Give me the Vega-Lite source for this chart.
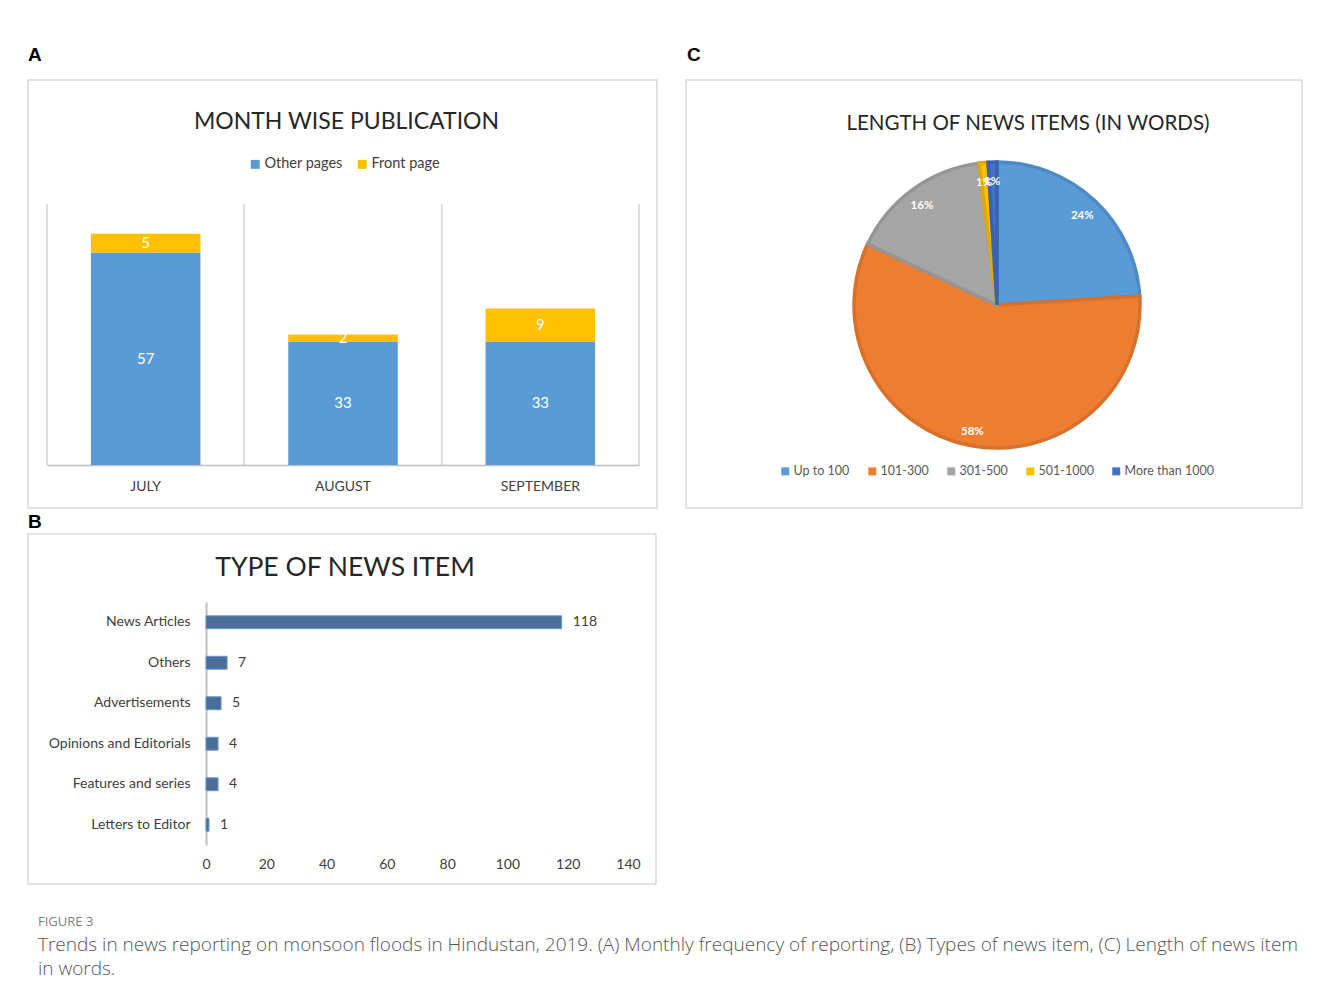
{
  "$schema": "https://vega.github.io/schema/vega-lite/v6.json",
  "background": "white",
  "padding": {"left": 27, "top": 46, "right": 5, "bottom": 5},
  "autosize": {"type": "pad"},
  "title": {
    "text": "FIGURE 3",
    "subtitle": ["Trends in news reporting on monsoon floods in Hindustan, 2019. (A) Monthly frequency of reporting, (B) Types of news item, (C) Length of news item", "in words."],
    "orient": "bottom", "anchor": "start", "frame": "group", "dx": 10, "offset": 31,
    "font": "Open Sans", "fontSize": 13, "fontWeight": "normal", "color": "#7f7f7f",
    "subtitleFont": "Open Sans", "subtitleFontSize": 19, "subtitleFontWeight": 300, "subtitleColor": "#555555", "subtitlePadding": 7, "subtitleLineHeight": 24
  },
  "spacing": 4,
  "resolve": {"scale": {"color": "independent", "fill": "independent", "stroke": "independent"}, "legend": {"color": "independent", "fill": "independent", "stroke": "independent"}},
  "vconcat": [
    {
      "spacing": 27,
      "resolve": {"scale": {"color": "independent", "fill": "independent", "stroke": "independent"}, "legend": {"color": "independent", "fill": "independent", "stroke": "independent"}},
      "hconcat": [
        {
          "title": {"text": "A", "anchor": "start", "frame": "group", "font": "Liberation Sans", "fontSize": 19, "fontWeight": "bold", "color": "#000000", "offset": 14},
          "resolve": {"scale": {"color": "independent"}, "legend": {"color": "independent"}},
          "vconcat": [
            {
              "width": 629, "height": 428,
              "title": {"text": "MONTH WISE PUBLICATION", "anchor": "middle", "frame": "group", "offset": -54, "dx": 4, "font": "Lato", "fontSize": 23, "fontWeight": "normal", "color": "#262626"},
              "data": {"values": [
                {"month": "JULY", "series": "Other pages", "value": 57},
                {"month": "JULY", "series": "Front page", "value": 5},
                {"month": "AUGUST", "series": "Other pages", "value": 33},
                {"month": "AUGUST", "series": "Front page", "value": 2},
                {"month": "SEPTEMBER", "series": "Other pages", "value": 33},
                {"month": "SEPTEMBER", "series": "Front page", "value": 9}
              ]},
              "transform": [{"stack": "value", "groupby": ["month"], "sort": [{"field": "series", "order": "descending"}], "as": ["v0", "v1"]}],
              "layer": [
                {
                  "mark": {"type": "rule", "color": "#d9d9d9", "strokeWidth": 1.2},
                  "encoding": {
                    "x": {"field": "month", "type": "nominal", "sort": null, "bandPosition": -0.4009,
                      "scale": {"range": [19, 611], "paddingInner": 0.445, "paddingOuter": 0.2225},
                      "axis": {"orient": "bottom", "offset": -43, "title": null, "grid": false, "ticks": false, "domainColor": "#bfbfbf", "domainWidth": 1.5, "labelAngle": 0, "labelPadding": 14, "labelFont": "Lato", "labelFontSize": 14, "labelColor": "#404040"}},
                    "y": {"datum": 0, "type": "quantitative", "scale": {"domain": [0, 70], "range": [385, 124], "nice": false}, "axis": null},
                    "y2": {"datum": 70}
                  }
                },
                {
                  "mark": {"type": "rule", "color": "#d9d9d9", "strokeWidth": 1.2},
                  "encoding": {
                    "x": {"field": "month", "type": "nominal", "sort": null, "bandPosition": 1.4009,
                      "scale": {"range": [19, 611], "paddingInner": 0.445, "paddingOuter": 0.2225},
                      "axis": {"orient": "bottom", "offset": -43, "title": null, "grid": false, "ticks": false, "domainColor": "#bfbfbf", "domainWidth": 1.5, "labelAngle": 0, "labelPadding": 14, "labelFont": "Lato", "labelFontSize": 14, "labelColor": "#404040"}},
                    "y": {"datum": 0, "type": "quantitative", "scale": {"domain": [0, 70], "range": [385, 124], "nice": false}, "axis": null},
                    "y2": {"datum": 70}
                  }
                },
                {
                  "mark": {"type": "bar"},
                  "encoding": {
                    "x": {"field": "month", "type": "nominal", "sort": null,
                      "scale": {"range": [19, 611], "paddingInner": 0.445, "paddingOuter": 0.2225},
                      "axis": {"orient": "bottom", "offset": -43, "title": null, "grid": false, "ticks": false, "domainColor": "#bfbfbf", "domainWidth": 1.5, "labelAngle": 0, "labelPadding": 14, "labelFont": "Lato", "labelFontSize": 14, "labelColor": "#404040"}},
                    "y": {"field": "v1", "type": "quantitative", "scale": {"domain": [0, 70], "range": [385, 124], "nice": false}, "axis": null},
                    "y2": {"field": "v0"},
                    "color": {"field": "series", "type": "nominal",
                      "scale": {"domain": ["Other pages", "Front page"], "range": ["#5B9BD5", "#FFC000"]},
                      "legend": {"orient": "none", "legendX": 220, "legendY": 77, "direction": "horizontal", "title": null, "symbolType": "square", "symbolSize": 80, "symbolStrokeWidth": 0, "labelFont": "Lato", "labelFontSize": 14.5, "labelColor": "#404040", "labelOffset": 2, "columnPadding": 12, "padding": 0}}
                  }
                },
                {
                  "transform": [{"fold": ["v0", "v1"], "as": ["k", "pos"]}],
                  "mark": {"type": "text", "color": "white", "font": "Lato", "fontSize": 15, "baseline": "middle"},
                  "encoding": {
                    "x": {"field": "month", "type": "nominal", "sort": null,
                      "scale": {"range": [19, 611], "paddingInner": 0.445, "paddingOuter": 0.2225},
                      "axis": {"orient": "bottom", "offset": -43, "title": null, "grid": false, "ticks": false, "domainColor": "#bfbfbf", "domainWidth": 1.5, "labelAngle": 0, "labelPadding": 14, "labelFont": "Lato", "labelFontSize": 14, "labelColor": "#404040"}},
                    "y": {"aggregate": "mean", "field": "pos", "type": "quantitative", "scale": {"domain": [0, 70], "range": [385, 124], "nice": false}, "axis": null},
                    "detail": {"field": "series", "type": "nominal"},
                    "text": {"field": "value", "type": "quantitative"}
                  }
                }
              ]
            }
          ]
        },
        {
          "title": {"text": "C", "anchor": "start", "frame": "group", "font": "Liberation Sans", "fontSize": 19, "fontWeight": "bold", "color": "#000000", "offset": 14, "dx": 1},
          "resolve": {"scale": {"fill": "independent", "stroke": "independent"}, "legend": {"fill": "independent", "stroke": "independent"}},
          "vconcat": [
            {
              "width": 616, "height": 428,
              "view": {"stroke": "#d9d9d9", "strokeWidth": 1.5},
              "title": {"text": "LENGTH OF NEWS ITEMS (IN WORDS)", "anchor": "middle", "frame": "group", "offset": -54, "dx": 34, "font": "Lato", "fontSize": 20.5, "fontWeight": "normal", "color": "#262626"},
              "data": {"values": [
                {"length": "Up to 100", "share": 0.24, "rank": 1},
                {"length": "101-300", "share": 0.58, "rank": 2},
                {"length": "301-500", "share": 0.16, "rank": 3},
                {"length": "501-1000", "share": 0.01, "rank": 4},
                {"length": "More than 1000", "share": 0.01, "rank": 5}
              ]},
              "encoding": {
                "theta": {"field": "share", "type": "quantitative", "stack": true},
                "order": {"field": "rank", "type": "quantitative"},
                "detail": {"field": "length", "type": "nominal"}
              },
              "layer": [
                {
                  "mark": {"type": "arc", "outerRadius": 143, "strokeWidth": 3.5, "xOffset": 3, "yOffset": 11},
                  "encoding": {
                    "fill": {"field": "length", "type": "nominal",
                      "scale": {"domain": ["Up to 100", "101-300", "301-500", "501-1000", "More than 1000"], "range": ["#5B9BD5", "#ED7D31", "#A5A5A5", "#FFC000", "#4472C4"]},
                      "legend": {"orient": "none", "legendX": 93, "legendY": 385, "direction": "horizontal", "title": null, "symbolType": "square", "symbolSize": 64, "symbolStrokeWidth": 0, "labelFont": "Lato", "labelFontSize": 12.5, "labelColor": "#595959", "labelOffset": 2, "columnPadding": 16, "padding": 0}},
                    "stroke": {"field": "length", "type": "nominal",
                      "scale": {"domain": ["Up to 100", "101-300", "301-500", "501-1000", "More than 1000"], "range": ["#4C8AC6", "#D8702A", "#959595", "#E3A800", "#3A62AE"]},
                      "legend": null}
                  }
                },
                {
                  "mark": {"type": "text", "radius": 126, "xOffset": 2, "yOffset": 14, "fill": "white", "font": "Lato", "fontWeight": "bold", "fontSize": 11.5},
                  "encoding": {"text": {"field": "share", "type": "quantitative", "format": ".0%"}}
                }
              ]
            }
          ]
        }
      ]
    },
    {
      "title": {"text": "B", "anchor": "start", "frame": "group", "font": "Liberation Sans", "fontSize": 19, "fontWeight": "bold", "color": "#000000", "offset": 1},
      "vconcat": [
        {
          "width": 628, "height": 350,
          "title": {"text": "TYPE OF NEWS ITEM", "anchor": "middle", "frame": "group", "offset": -47, "dx": 3, "font": "Lato", "fontSize": 26.5, "fontWeight": "normal", "color": "#262626"},
          "data": {"values": [
            {"type": "News Articles", "n": 118},
            {"type": "Others", "n": 7},
            {"type": "Advertisements", "n": 5},
            {"type": "Opinions and Editorials", "n": 4},
            {"type": "Features and series", "n": 4},
            {"type": "Letters to Editor", "n": 1}
          ]},
          "encoding": {
            "y": {"field": "type", "type": "nominal", "sort": null,
              "scale": {"range": [68, 311], "paddingInner": 0.68, "paddingOuter": 0.34},
              "axis": {"orient": "left", "offset": -178, "title": null, "ticks": false, "domainColor": "#bfbfbf", "domainWidth": 2, "labelPadding": 16, "labelFont": "Lato", "labelFontSize": 14, "labelColor": "#404040"}},
            "x": {"field": "n", "type": "quantitative",
              "scale": {"domain": [0, 140], "range": [178, 600], "nice": false},
              "axis": {"orient": "bottom", "offset": -39, "title": null, "domain": false, "ticks": false, "grid": false, "labelFlush": false, "values": [0, 20, 40, 60, 80, 100, 120, 140], "labelPadding": 12, "labelFont": "Lato", "labelFontSize": 14, "labelColor": "#404040"}}
          },
          "layer": [
            {"mark": {"type": "bar", "fill": "#4a6e98", "stroke": "#6d9bcb", "strokeWidth": 1}},
            {"mark": {"type": "text", "align": "left", "baseline": "middle", "dx": 11, "font": "Lato", "fontSize": 14, "color": "#404040"},
             "encoding": {"text": {"field": "n", "type": "quantitative"}}}
          ]
        }
      ]
    }
  ],
  "config": {
    "view": {"stroke": "#d9d9d9", "strokeWidth": 1.5},
    "font": "Lato"
  }
}
